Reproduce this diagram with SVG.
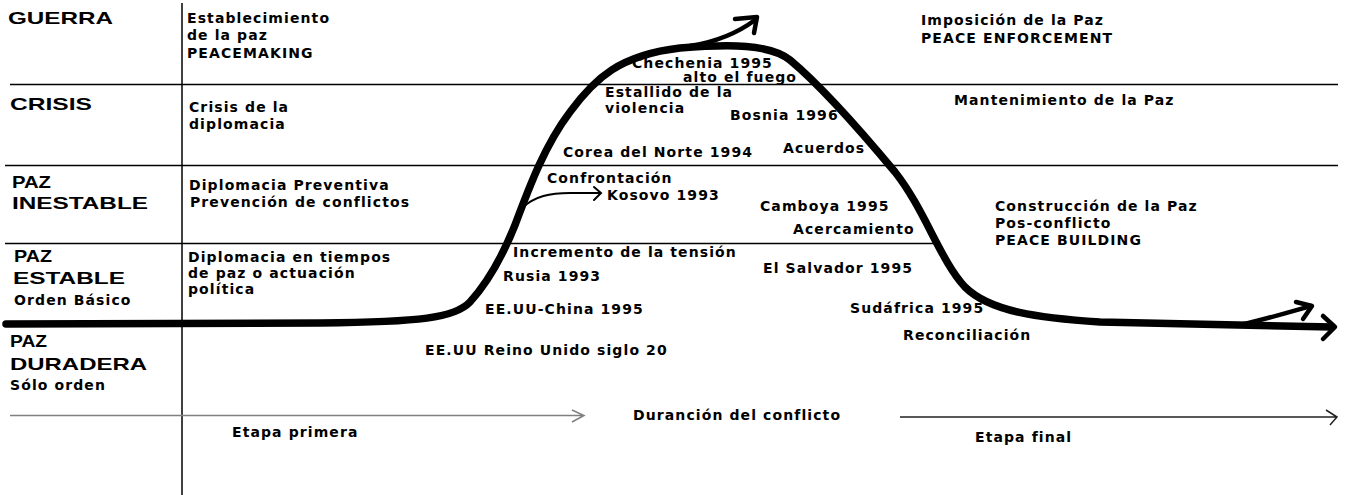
<svg xmlns="http://www.w3.org/2000/svg" width="1348" height="495" viewBox="0 0 1348 495">
<style>
.t{font-family:"DejaVu Sans","Liberation Sans",sans-serif;font-weight:bold;font-size:14px;letter-spacing:1.1px;fill:#000}
.L{font-family:"Liberation Sans",Arial,sans-serif;font-weight:bold;font-size:17px;fill:#000}
.grid{stroke:#000;stroke-width:1.5;fill:none}
.curve{stroke:#000;stroke-width:7.5;fill:none;stroke-linecap:round;stroke-linejoin:round}
.head{stroke:#000;stroke-width:4.5;fill:none;stroke-linecap:round;stroke-linejoin:round}
.thin{stroke:#000;stroke-width:2;fill:none;stroke-linecap:round}
</style>
<rect width="1348" height="495" fill="#fff"/>
<g id="grid">
<line class="grid" x1="182" y1="3" x2="182" y2="495"/>
<line class="grid" x1="10" y1="84.5" x2="1338" y2="84.5"/>
<line class="grid" x1="5" y1="165.5" x2="1338" y2="165.5"/>
<line class="grid" x1="5" y1="243.5" x2="936" y2="243.5"/>
<path d="M10 415.5 H583 M572 410 L584 415.5 L572 422" stroke="#808080" stroke-width="1.5" fill="none"/>
<path d="M900 417 H1337 M1326 410 L1337 417 L1330 425" stroke="#222" stroke-width="1.5" fill="none"/>
</g>
<g id="connectors">
<path class="curve" d="M6 324 L320 323 C420 322 455 318 470 302 C490 280 505 250 515 225 C530 185 545 145 570 112 C595 78 620 55 680 48 C730 44 770 44 790 60 C820 85 860 130 895 172 C925 210 940 260 965 287 C990 312 1040 318 1100 322 L1332 327"/>
<path class="head" d="M1323 316 L1335 327 L1323 339"/>
<path class="head" d="M690 46 C715 42 735 35 755 20"/>
<path class="head" d="M735 19 L757 17 L754 33"/>
<path class="head" d="M1240 325 C1270 318 1290 312 1311 306"/>
<path class="head" d="M1296 302 L1312 306 L1303 319"/>
<path class="thin" d="M522 208 C535 196 550 193 570 193 L600 193 M594 187 L601 193 L594 200"/>
</g>
<g id="levels">
<text class="L" x="8" y="24" textLength="105" lengthAdjust="spacingAndGlyphs">GUERRA</text>
<text class="L" x="10" y="110" textLength="82" lengthAdjust="spacingAndGlyphs">CRISIS</text>
<text class="L" x="12" y="188" textLength="39" lengthAdjust="spacingAndGlyphs">PAZ</text>
<text class="L" x="12" y="209" textLength="136" lengthAdjust="spacingAndGlyphs">INESTABLE</text>
<text class="L" x="14" y="262" textLength="38" lengthAdjust="spacingAndGlyphs">PAZ</text>
<text class="L" x="13" y="284" textLength="112" lengthAdjust="spacingAndGlyphs">ESTABLE</text>
<text class="t" x="14" y="305">Orden Básico</text>
<text class="L" x="10" y="347" textLength="37" lengthAdjust="spacingAndGlyphs">PAZ</text>
<text class="L" x="10" y="370" textLength="137" lengthAdjust="spacingAndGlyphs">DURADERA</text>
<text class="t" x="10" y="390">Sólo orden</text>
</g>
<g id="strategies">
<text class="t" x="187" y="23">Establecimiento</text>
<text class="t" x="187" y="40">de la paz</text>
<text class="t" x="187" y="58">PEACEMAKING</text>
<text class="t" x="189" y="112">Crisis de la</text>
<text class="t" x="189" y="129">diplomacia</text>
<text class="t" x="189" y="190">Diplomacia Preventiva</text>
<text class="t" x="190" y="207">Prevención de conflictos</text>
<text class="t" x="188" y="262">Diplomacia en tiempos</text>
<text class="t" x="188" y="278">de paz o actuación</text>
<text class="t" x="188" y="294">política</text>
<text class="t" x="921" y="25">Imposición de la Paz</text>
<text class="t" x="921" y="43">PEACE ENFORCEMENT</text>
<text class="t" x="954" y="105">Mantenimiento de la Paz</text>
<text class="t" x="995" y="211">Construcción de la Paz</text>
<text class="t" x="995" y="228">Pos-conflicto</text>
<text class="t" x="995" y="245">PEACE BUILDING</text>
</g>
<g id="events">
<text class="t" x="632" y="68">Chechenia 1995</text>
<text class="t" x="683" y="82">alto el fuego</text>
<text class="t" x="605" y="97">Estallido de la</text>
<text class="t" x="605" y="113">violencia</text>
<text class="t" x="730" y="120">Bosnia  1996</text>
<text class="t" x="563" y="157">Corea del Norte 1994</text>
<text class="t" x="783" y="153">Acuerdos</text>
<text class="t" x="547" y="183">Confrontación</text>
<text class="t" x="607" y="200">Kosovo 1993</text>
<text class="t" x="760" y="211">Camboya 1995</text>
<text class="t" x="793" y="234">Acercamiento</text>
<text class="t" x="513" y="257">Incremento de la tensión</text>
<text class="t" x="503" y="281">Rusia 1993</text>
<text class="t" x="763" y="273">El Salvador 1995</text>
<text class="t" x="485" y="314">EE.UU-China 1995</text>
<text class="t" x="850" y="313">Sudáfrica 1995</text>
<text class="t" x="903" y="340">Reconciliación</text>
<text class="t" x="425" y="355">EE.UU Reino Unido siglo 20</text>
</g>
<g id="axis">
<text class="t" x="633" y="420">Duranción del conflicto</text>
<text class="t" x="232" y="437">Etapa primera</text>
<text class="t" x="975" y="442">Etapa final</text>
</g>
</svg>
